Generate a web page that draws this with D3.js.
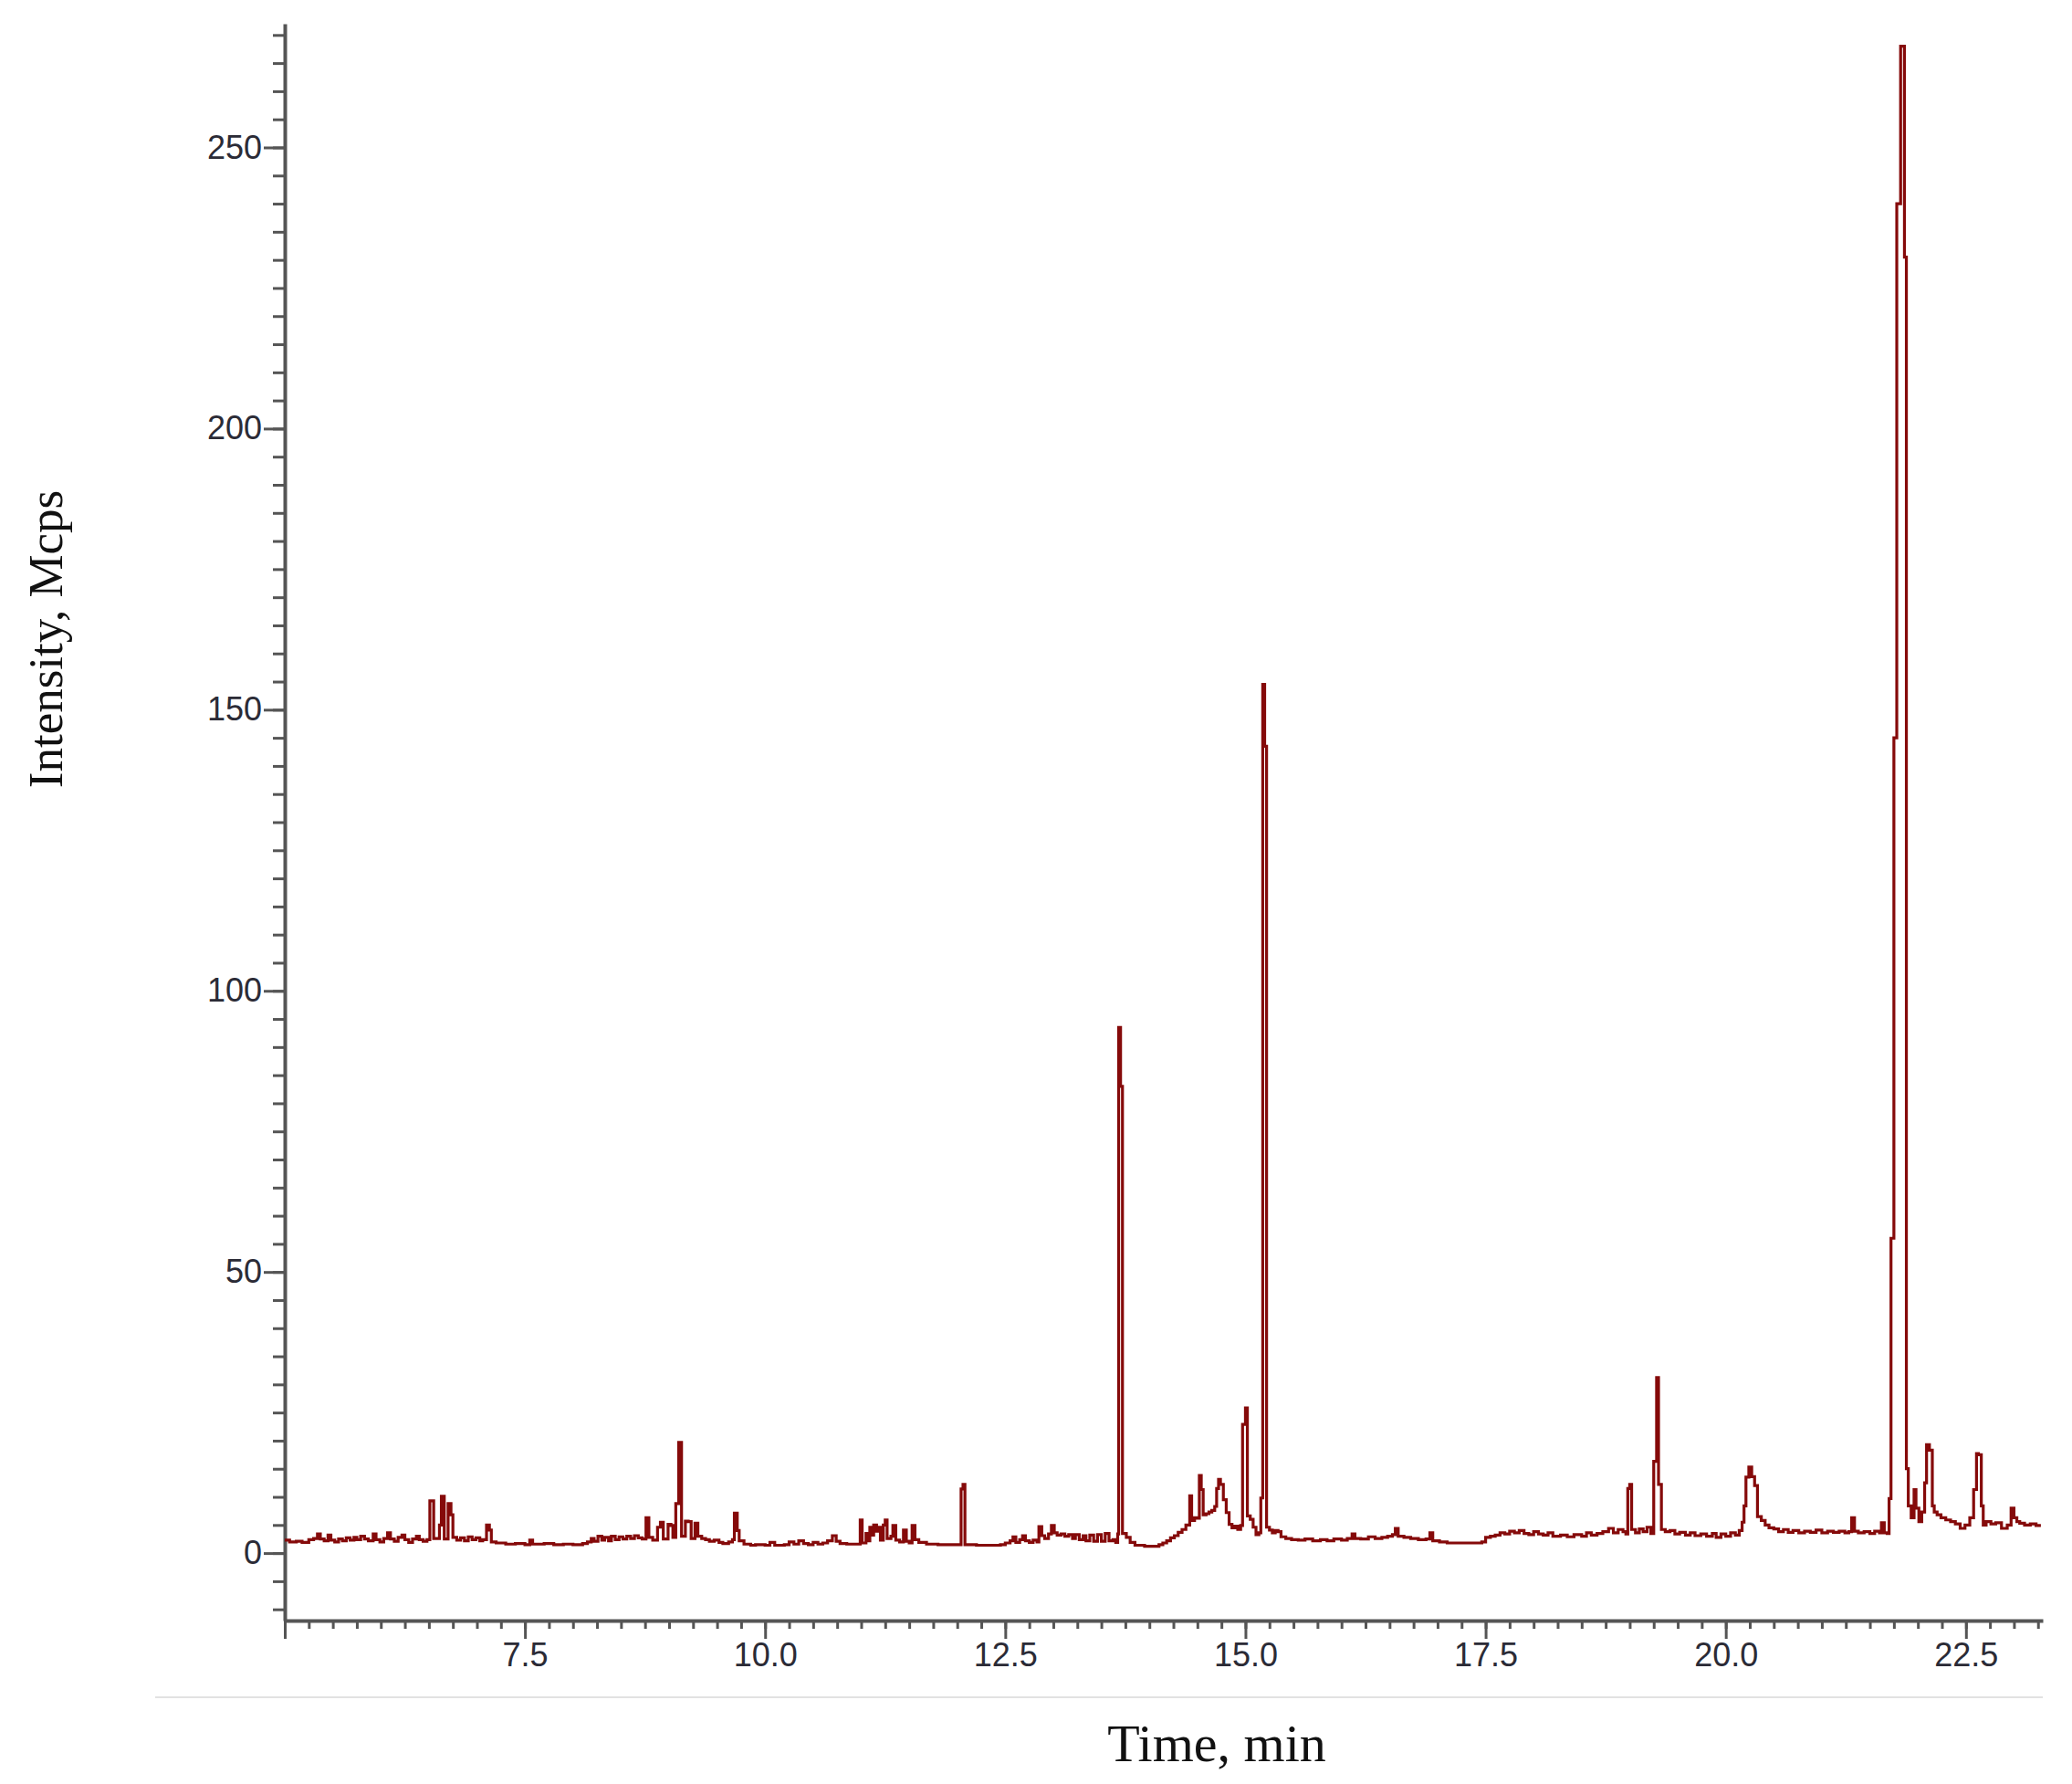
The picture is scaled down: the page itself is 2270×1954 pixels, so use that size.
<!DOCTYPE html>
<html>
<head>
<meta charset="utf-8">
<script src="https://cdn.jsdelivr.net/npm/d3@7"></script>
<style>
  body { margin: 0; background: #fff; }
  svg { display: block; background: #fff; }
</style>
</head>
<body>
<svg id="chart" width="2270" height="1954"></svg>
<script>
// retention time (min) and intensity (Mcps)
const timeMin = [
    5.00, 5.05, 5.12, 5.18, 5.25, 5.30, 5.34, 5.37, 5.41, 5.45, 5.48, 5.52, 5.56, 5.60, 5.64, 5.68,
    5.72, 5.75, 5.79, 5.83, 5.87, 5.92, 5.95, 5.99, 6.03, 6.07, 6.10, 6.14, 6.18, 6.22, 6.25, 6.29,
    6.33, 6.37, 6.40, 6.44, 6.48, 6.51, 6.55, 6.61, 6.63, 6.66, 6.70, 6.73, 6.75, 6.79, 6.83, 6.87,
    6.91, 6.95, 6.99, 7.03, 7.06, 7.10, 7.13, 7.15,
    7.20, 7.30, 7.40, 7.50, 7.55, 7.58, 7.70, 7.80, 7.90, 8.00, 8.10, 8.15, 8.19, 8.22, 8.26, 8.30,
    8.33, 8.37, 8.40, 8.44, 8.48, 8.52, 8.56, 8.60, 8.64, 8.68, 8.72, 8.76, 8.79, 8.83, 8.88, 8.91,
    8.94, 8.99, 9.02, 9.04, 9.07, 9.10, 9.13, 9.17, 9.20, 9.23, 9.27, 9.30, 9.34, 9.38, 9.42, 9.47,
    9.52, 9.56, 9.62, 9.66, 9.68, 9.71, 9.73, 9.78, 9.85,
    9.90, 10.00, 10.05, 10.10, 10.20, 10.25, 10.30, 10.35, 10.40, 10.45, 10.50, 10.55, 10.60, 10.65,
    10.70, 10.74, 10.78, 10.85, 10.92, 10.97, 10.99, 11.01, 11.05, 11.07, 11.09, 11.11, 11.13, 11.16,
    11.18, 11.20, 11.23, 11.25, 11.27, 11.31, 11.33, 11.36, 11.40, 11.44, 11.47, 11.50, 11.53, 11.56,
    11.60, 11.68, 11.80, 11.92, 12.02, 12.04, 12.06, 12.08, 12.20, 12.35, 12.45, 12.50, 12.55, 12.58,
    12.61, 12.65, 12.68, 12.71, 12.75, 12.79, 12.83, 12.85, 12.88, 12.91, 12.95, 12.98, 13.01, 13.04,
    13.08, 13.12, 13.16, 13.20, 13.23, 13.27, 13.31, 13.34, 13.38, 13.42, 13.46, 13.50, 13.54, 13.58,
    13.62, 13.65,
    13.67, 13.68, 13.70, 13.72, 13.76, 13.80, 13.85, 13.95, 14.05, 14.10, 14.14, 14.18, 14.22, 14.26,
    14.30, 14.34, 14.38, 14.42, 14.44, 14.47, 14.50, 14.52, 14.54, 14.56, 14.59, 14.62, 14.65, 14.68,
    14.70, 14.72, 14.74, 14.77, 14.80, 14.83, 14.86, 14.89, 14.92, 14.95, 14.97, 15.00, 15.02, 15.05,
    15.08, 15.11, 15.14, 15.16, 15.18, 15.20, 15.22, 15.25, 15.28, 15.31, 15.34, 15.37, 15.42, 15.48,
    15.55, 15.62, 15.70, 15.78, 15.85, 15.92, 16.00, 16.06, 16.11, 16.14, 16.20, 16.28, 16.35, 16.42,
    16.48, 16.53, 16.56, 16.59, 16.65, 16.72, 16.80, 16.88, 16.92, 16.95, 17.02, 17.10, 17.20, 17.30,
    17.40, 17.46, 17.50, 17.55, 17.60, 17.65, 17.70, 17.75, 17.80, 17.85, 17.90, 17.95, 18.00, 18.05,
    18.10, 18.15, 18.20, 18.28, 18.35, 18.42, 18.50, 18.55, 18.60, 18.66, 18.72, 18.78, 18.83, 18.88,
    18.93, 18.96, 18.98, 19.00, 19.02, 19.06, 19.10, 19.14, 19.18, 19.22, 19.25, 19.28, 19.30, 19.33,
    19.37, 19.42, 19.47, 19.52, 19.58, 19.63, 19.68, 19.74, 19.80, 19.86, 19.90, 19.95, 20.00, 20.05,
    20.10, 20.14, 20.17, 20.19, 20.21, 20.24, 20.27, 20.30, 20.33, 20.37, 20.41, 20.45, 20.50, 20.55,
    20.60, 20.65, 20.70, 20.76, 20.82, 20.88, 20.94, 21.00, 21.06, 21.12, 21.18, 21.24, 21.28, 21.31,
    21.34, 21.38, 21.44, 21.50, 21.55, 21.60, 21.62, 21.65, 21.68,
    21.70, 21.72, 21.75, 21.78, 21.82, 21.86, 21.88, 21.90, 21.93, 21.96, 21.98, 22.01, 22.04, 22.07,
    22.09, 22.12, 22.15, 22.17, 22.20, 22.24, 22.29, 22.34, 22.39, 22.44, 22.49, 22.54, 22.58, 22.61,
    22.63, 22.66, 22.68, 22.71, 22.76, 22.81, 22.87, 22.93, 22.97, 23.00, 23.03, 23.06, 23.11, 23.17,
    23.23, 23.28
];
const intensity = [
    2.3, 2.0, 2.1, 1.9, 2.4, 2.6, 3.4, 2.5, 2.2, 3.2, 2.3, 2.0, 2.5, 2.2, 2.7, 2.3,
    2.8, 2.4, 3.0, 2.5, 2.2, 3.4, 2.4, 2.0, 2.6, 3.6, 2.5, 2.1, 2.8, 3.2, 2.4, 1.9,
    2.5, 3.0, 2.4, 2.1, 2.4, 9.3, 2.6, 5.0, 10.1, 2.5, 8.8, 6.8, 2.8, 2.3, 2.7, 2.2,
    2.9, 2.4, 2.7, 2.2, 2.4, 5.0, 4.1, 2.0,
    1.8, 1.6, 1.7, 1.5, 2.3, 1.6, 1.7, 1.5, 1.6, 1.5, 1.7, 2.0, 2.6, 2.1, 3.0, 2.3,
    2.8, 2.2, 3.0, 2.4, 2.9, 2.5, 3.0, 2.6, 3.1, 2.7, 2.5, 6.3, 2.8, 2.3, 4.6, 5.5,
    2.5, 5.1, 4.9, 2.8, 8.8, 19.7, 3.0, 5.7, 5.6, 2.6, 5.3, 3.0, 2.6, 2.4, 2.1, 2.3,
    1.9, 1.7, 2.0, 2.4, 7.1, 4.0, 2.2, 1.6, 1.4,
    1.5, 1.4, 1.9, 1.4, 1.5, 2.0, 1.6, 2.2, 1.7, 1.5, 1.9, 1.6, 1.8, 2.2,
    3.1, 2.1, 1.7, 1.6, 1.6, 1.6, 5.9, 1.8, 3.5, 2.2, 4.6, 3.2, 5.0, 3.9,
    4.6, 2.3, 5.0, 5.9, 2.6, 3.0, 4.9, 2.3, 2.0, 4.1, 2.1, 1.8, 4.9, 2.4,
    1.9, 1.6, 1.5, 1.5, 1.5, 11.4, 12.2, 1.5, 1.4, 1.4, 1.5, 1.8, 2.2, 2.9,
    1.9, 2.4, 3.1, 2.2, 1.9, 2.3, 2.0, 4.7, 3.1, 2.6, 3.4, 4.9, 3.6, 3.2,
    3.4, 3.0, 3.3, 2.6, 3.3, 2.4, 3.1, 2.2, 3.2, 2.1, 3.3, 2.1, 3.5, 2.2,
    2.4, 1.9,
    3.4, 93.5, 83.0, 3.5, 2.8, 1.9, 1.4, 1.2, 1.2, 1.5, 1.8, 2.2, 2.7, 3.1,
    3.7, 4.2, 5.0, 10.2, 5.8, 6.3, 6.2, 13.8, 11.3, 6.8, 7.0, 7.3, 7.6, 8.3,
    11.5, 13.1, 12.2, 9.5, 7.2, 5.1, 4.5, 4.8, 4.2, 4.9, 22.9, 25.8, 6.6, 6.0,
    4.6, 3.3, 3.6, 9.8, 154.5, 143.5, 4.6, 4.1, 3.6, 4.0, 3.8, 2.9, 2.6, 2.4,
    2.3, 2.5, 2.2, 2.4, 2.2, 2.5, 2.3, 2.6, 3.4, 2.6, 2.5, 2.9, 2.6, 2.8,
    3.0, 3.3, 4.4, 3.0, 2.8, 2.6, 2.4, 2.5, 3.6, 2.2, 2.0, 1.8, 1.8, 1.8,
    1.8, 2.0, 2.8, 3.0, 3.2, 3.6, 3.4, 3.9, 3.6, 4.0, 3.5, 3.3, 3.8, 3.4,
    3.2, 3.6, 3.0, 3.2, 2.9, 3.3, 3.0, 3.6, 3.2, 3.5, 3.8, 4.4, 3.6, 4.2,
    3.8, 3.4, 11.5, 12.2, 4.2, 3.6, 4.3, 3.8, 4.6, 3.5, 16.3, 31.2, 12.2, 4.2,
    3.8, 4.0, 3.4, 3.7, 3.2, 3.6, 3.1, 3.4, 3.0, 3.5, 2.8, 3.4, 3.0, 3.6,
    3.2, 4.0, 5.5, 8.4, 13.5, 15.3, 13.6, 12.0, 6.5, 5.8, 5.0, 4.5, 4.3, 3.8,
    4.2, 3.7, 4.0, 3.6, 3.9, 3.7, 4.1, 3.6, 3.9, 3.7, 3.9, 3.6, 3.8, 6.3,
    3.9, 3.6, 3.8, 3.5, 3.9, 3.6, 5.4, 3.6, 3.5,
    9.7, 56.0, 145.0, 240.0, 268.0, 230.5, 15.0, 8.4, 6.3, 11.3, 8.0, 5.6, 7.3, 12.5,
    19.3, 18.3, 8.4, 7.3, 6.8, 6.3, 5.9, 5.6, 5.2, 4.4, 5.0, 6.3, 11.3, 17.7,
    17.5, 8.4, 5.0, 5.6, 5.2, 5.4, 4.4, 5.0, 8.0, 6.3, 5.6, 5.3, 5.0, 5.2,
    4.9, 4.9
];

const xTickValues = [5.0, 7.5, 10.0, 12.5, 15.0, 17.5, 20.0, 22.5];
const xTickLabels = ['', '7.5', '10.0', '12.5', '15.0', '17.5', '20.0', '22.5'];
const yTickValues = [0, 50, 100, 150, 200, 250];
const yTickLabels = ['0', '50', '100', '150', '200', '250'];
const xTitle = 'Time, min';
const yTitle = 'Intensity, Mcps';

const svg = d3.select('#chart');
const plot = { left: 312, right: 2238, top: 26, bottom: 1775 };

const x = d3.scaleLinear().domain([5.0, 23.3]).range([plot.left, plot.right]);
const y = d3.scaleLinear().domain([-12, 272]).range([plot.bottom, plot.top]);

const axisColor = '#555';
const textColor = '#2b2b36';

// light separator line under the axis
svg.append('line')
    .attr('x1', 170).attr('x2', plot.right)
    .attr('y1', 1859).attr('y2', 1859)
    .style('stroke', '#e2e2e2')
    .style('stroke-width', 2);

// minor ticks first, then major axes on top
const xMinor = d3.range(5.0, 23.3, 0.25);
const yMinor = d3.range(-10, 272, 5);

svg.append('g')
    .attr('transform', `translate(0,${plot.bottom})`)
    .call(d3.axisBottom(x).tickValues(xMinor).tickSize(9).tickSizeOuter(0).tickFormat(''))
    .call(g => g.select('.domain').remove())
    .call(g => g.selectAll('line').style('stroke', axisColor).style('stroke-width', 3));

svg.append('g')
    .attr('transform', `translate(${plot.left},0)`)
    .call(d3.axisLeft(y).tickValues(yMinor).tickSize(13).tickSizeOuter(0).tickFormat(''))
    .call(g => g.select('.domain').remove())
    .call(g => g.selectAll('line').style('stroke', axisColor).style('stroke-width', 3));

const xAxis = svg.append('g')
    .attr('transform', `translate(0,${plot.bottom})`)
    .call(d3.axisBottom(x)
        .tickValues(xTickValues)
        .tickSize(20)
        .tickSizeOuter(0)
        .tickPadding(4)
        .tickFormat((d, i) => xTickLabels[i]));

const yAxis = svg.append('g')
    .attr('transform', `translate(${plot.left},0)`)
    .call(d3.axisLeft(y)
        .tickValues(yTickValues)
        .tickSize(23)
        .tickSizeOuter(0)
        .tickPadding(2)
        .tickFormat((d, i) => yTickLabels[i]));

[xAxis, yAxis].forEach(g => {
    g.select('.domain').style('stroke', axisColor).style('stroke-width', 4);
    g.selectAll('.tick line').style('stroke', axisColor).style('stroke-width', 3);
    g.selectAll('.tick text')
        .style('font-family', '"Liberation Sans", Arial, sans-serif')
        .style('font-size', '36px')
        .style('fill', textColor);
});

// the trace
const trace = timeMin.map((t, i) => ({ t: t, v: intensity[i] }));
const line = d3.line()
    .x(d => x(d.t))
    .y(d => y(d.v))
    .curve(d3.curveStepAfter);

svg.append('path')
    .datum(trace)
    .attr('d', line)
    .style('fill', 'none')
    .style('stroke', '#850a0a')
    .style('stroke-width', 3.2)
    .style('stroke-linejoin', 'miter');

// axis titles
svg.append('text')
    .attr('x', 1333)
    .attr('y', 1929)
    .attr('text-anchor', 'middle')
    .style('font-family', '"Liberation Serif", "Times New Roman", serif')
    .style('font-size', '58px')
    .style('fill', '#111')
    .text(xTitle);

svg.append('text')
    .attr('transform', 'translate(68,700) rotate(-90)')
    .attr('text-anchor', 'middle')
    .style('font-family', '"Liberation Serif", "Times New Roman", serif')
    .style('font-size', '53px')
    .style('fill', '#111')
    .text(yTitle);
</script>
</body>
</html>
